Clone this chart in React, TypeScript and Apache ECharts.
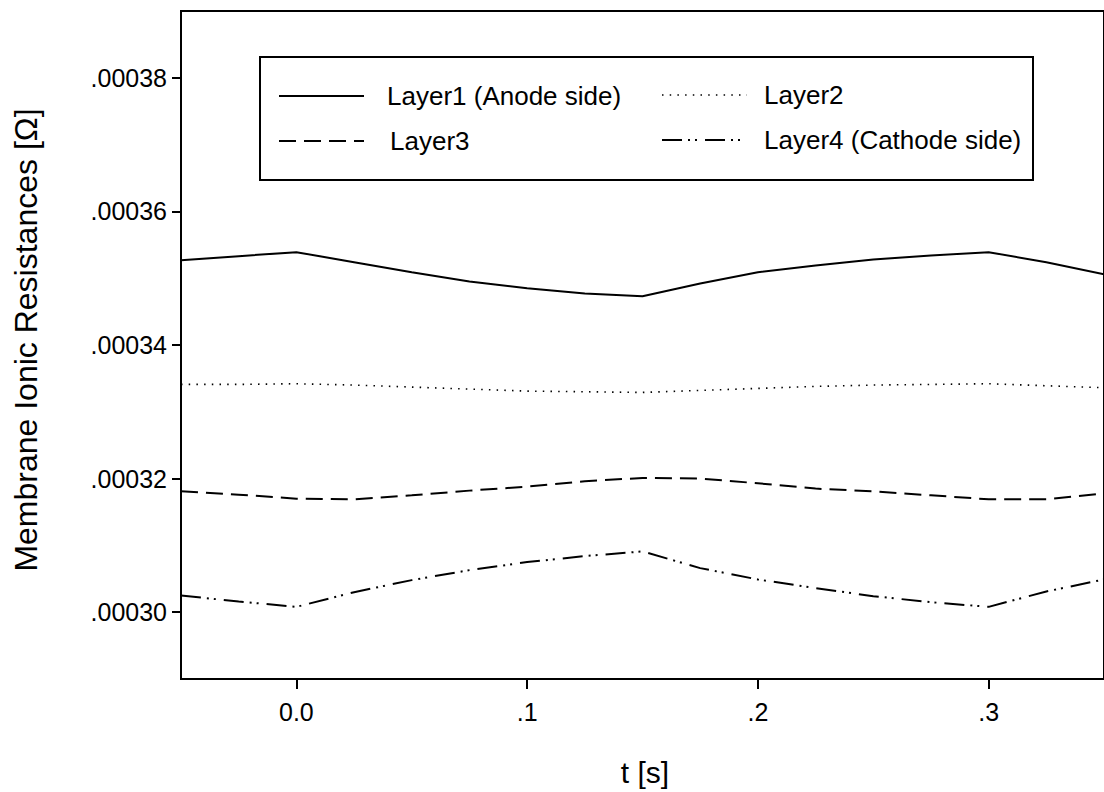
import React, { useEffect, useRef } from "react";
import * as echarts from "echarts";

const tValues = [-0.05, -0.025, 0, 0.025, 0.05, 0.075, 0.1, 0.125, 0.15, 0.175, 0.2, 0.225, 0.25, 0.275, 0.3, 0.325, 0.35];

const layer1 = [0.0003527, 0.0003533, 0.0003539, 0.0003524, 0.0003509, 0.0003495, 0.0003485, 0.0003477, 0.0003473, 0.0003492, 0.0003509, 0.0003519, 0.0003528, 0.0003534, 0.0003539, 0.0003524, 0.0003506];
const layer2 = [0.0003341, 0.0003341, 0.0003342, 0.000334, 0.0003337, 0.0003334, 0.0003331, 0.000333, 0.0003329, 0.0003332, 0.0003335, 0.0003338, 0.000334, 0.0003341, 0.0003342, 0.0003339, 0.0003336];
const layer3 = [0.0003181, 0.0003176, 0.000317, 0.0003169, 0.0003175, 0.0003182, 0.0003188, 0.0003196, 0.0003201, 0.00032, 0.0003193, 0.0003185, 0.0003181, 0.0003175, 0.0003169, 0.0003169, 0.0003178];
const layer4 = [0.0003025, 0.0003016, 0.0003008, 0.000303, 0.0003048, 0.0003063, 0.0003075, 0.0003084, 0.0003091, 0.0003066, 0.0003049, 0.0003036, 0.0003024, 0.0003015, 0.0003008, 0.0003031, 0.0003049];

const seriesNames = ["Layer1 (Anode side)", "Layer2", "Layer3", "Layer4 (Cathode side)"];

const xTickValues = [0, 0.1, 0.2, 0.3];
const xTickLabels = ["0.0", ".1", ".2", ".3"];
const yTickValues = [0.0003, 0.00032, 0.00034, 0.00036, 0.00038];
const yTickLabels = [".00030", ".00032", ".00034", ".00036", ".00038"];

const xTitle = "t [s]";
const yTitle = "Membrane Ionic Resistances [Ω]";

const FONT = "'Liberation Sans', Arial, sans-serif";

const dashStyles: any[] = ["solid", [1.5, 6.2], [17, 8], [20, 6, 2, 5, 2, 8]];
const lineWidths = [2, 1.6, 2, 2];

function labelFor(v: number, values: number[], labels: string[]) {
  for (let i = 0; i < values.length; i++) {
    if (Math.abs(values[i] - v) < 1e-9) return labels[i];
  }
  return "";
}

export default function App() {
  const ref = useRef<HTMLDivElement>(null);

  useEffect(() => {
    if (!ref.current) return;
    const chart = echarts.init(ref.current, undefined, { renderer: "svg" });
    const layers = [layer1, layer2, layer3, layer4];

    const legendRows = [
      { name: seriesNames[0], idx: 0, lx: 279, tx: 387, y: 96 },
      { name: seriesNames[2], idx: 2, lx: 279, tx: 390, y: 141 },
      { name: seriesNames[1], idx: 1, lx: 662, tx: 764, y: 95 },
      { name: seriesNames[3], idx: 3, lx: 662, tx: 764, y: 140 },
    ];

    const legendGraphics: any[] = [
      {
        type: "rect",
        shape: { x: 260, y: 57, width: 773, height: 123 },
        style: { fill: "#fff", stroke: "#000", lineWidth: 2 },
        z: 100,
      },
    ];
    legendRows.forEach((r) => {
      legendGraphics.push({
        type: "line",
        shape: { x1: r.lx, y1: r.y, x2: r.lx + 85, y2: r.y },
        style: {
          stroke: "#000",
          lineWidth: lineWidths[r.idx],
          lineDash: dashStyles[r.idx] === "solid" ? null : dashStyles[r.idx],
        },
        z: 101,
      });
      legendGraphics.push({
        type: "text",
        x: r.tx,
        y: r.y,
        style: {
          text: r.name,
          font: `26px ${FONT}`,
          fill: "#000",
          textAlign: "left",
          textVerticalAlign: "middle",
        },
        z: 101,
      });
    });

    const option: any = {
      animation: false,
      backgroundColor: "#fff",
      grid: {
        left: 181,
        top: 11,
        bottom: 113,
        right: -7,
        show: true,
        borderColor: "#000",
        borderWidth: 2,
        backgroundColor: "transparent",
      },
      xAxis: {
        type: "value",
        min: -0.05,
        max: 0.35,
        splitLine: { show: false },
        axisLine: { show: true, onZero: false, lineStyle: { color: "#000", width: 2 } },
        axisTick: { show: true, length: 10, lineStyle: { color: "#000", width: 2 }, customValues: xTickValues },
        axisLabel: {
          show: true,
          customValues: xTickValues,
          margin: 20,
          color: "#000",
          fontSize: 25,
          fontFamily: FONT,
          formatter: (v: number) => labelFor(v, xTickValues, xTickLabels),
        },
      },
      yAxis: {
        type: "value",
        min: 0.00029,
        max: 0.00039,
        splitLine: { show: false },
        axisLine: { show: true, onZero: false, lineStyle: { color: "#000", width: 2 } },
        axisTick: { show: true, length: 9, lineStyle: { color: "#000", width: 2 }, customValues: yTickValues },
        axisLabel: {
          show: true,
          customValues: yTickValues,
          margin: 14,
          color: "#000",
          fontSize: 25,
          fontFamily: FONT,
          formatter: (v: number) => labelFor(v, yTickValues, yTickLabels),
        },
      },
      series: layers.map((arr, i) => ({
        name: seriesNames[i],
        type: "line",
        showSymbol: false,
        symbol: "none",
        data: tValues.map((t, j) => [t, arr[j]]),
        lineStyle: { color: "#000", width: lineWidths[i], type: dashStyles[i] },
        clip: true,
      })),
      graphic: [
        ...legendGraphics,
        {
          type: "text",
          x: 645,
          y: 772,
          style: {
            text: xTitle,
            font: `30px ${FONT}`,
            fill: "#000",
            textAlign: "center",
            textVerticalAlign: "middle",
          },
        },
        {
          type: "text",
          x: 26,
          y: 340,
          rotation: Math.PI / 2,
          style: {
            text: yTitle,
            font: `32px ${FONT}`,
            fill: "#000",
            textAlign: "center",
            textVerticalAlign: "middle",
          },
        },
      ],
    };
    chart.setOption(option);
    return () => chart.dispose();
  }, []);

  return (
    <div
      ref={ref}
      style={{ position: "fixed", left: 0, top: 0, width: 1104, height: 792, background: "#fff" }}
    />
  );
}
